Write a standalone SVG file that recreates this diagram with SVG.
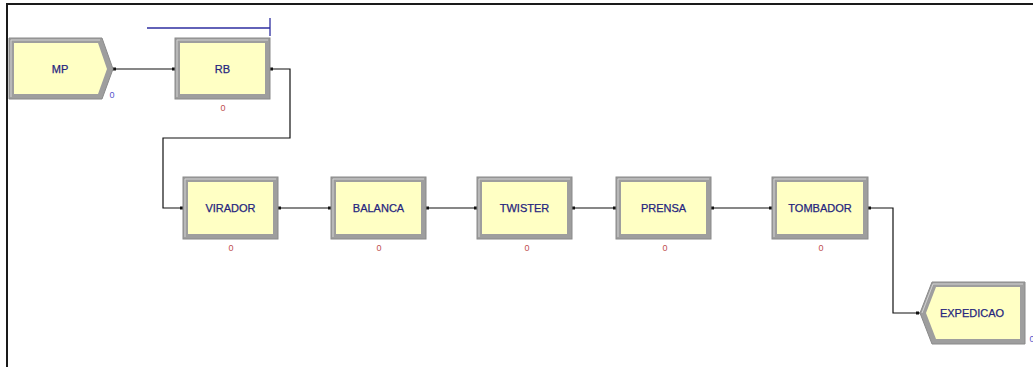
<svg xmlns="http://www.w3.org/2000/svg" width="1033" height="367" viewBox="0 0 1033 367">
  <defs>
    <style>
      .frame { fill: #9e9e9e; stroke: #8a8a8a; stroke-width: 1; }
      .hl { fill: none; stroke: #d2d2d2; stroke-width: 1; }
      .body { fill: #ffffc4; }
      .label { font-family: "Liberation Sans", Arial, sans-serif; font-size: 11px; fill: #25257e; stroke: #25257e; stroke-width: 0.25; text-anchor: middle; }
      .cnt { font-family: "Liberation Sans", Arial, sans-serif; font-size: 9px; text-anchor: middle; }
      .cnt-q { fill: #c05050; }
      .cnt-e { fill: #5555cc; }
      .conn { fill: none; stroke: #111; stroke-width: 1.2; }
      .pt { fill: #111; }
    </style>
  </defs>

  <rect x="0" y="0" width="1033" height="367" fill="#ffffff"/>
  <!-- window border -->
  <path d="M7 367 V4 H1033" fill="none" stroke="#1a1a1a" stroke-width="2"/>

  <!-- resource bar above RB -->
  <g id="rb-bar" stroke="#2e2ea0" stroke-width="1.3" fill="none">
    <path d="M147 28 H270"/>
    <path d="M270 18 V36"/>
  </g>

  <!-- connectors -->
  <g id="connectors">
    <path class="conn" d="M113 69 H175"/>
    <path class="conn" d="M270 69 H290 V138 H163 V208 H183"/>
    <path class="conn" d="M278 208 H331"/>
    <path class="conn" d="M426 208 H477"/>
    <path class="conn" d="M572 208 H616"/>
    <path class="conn" d="M711 208 H772"/>
    <path class="conn" d="M868 208 H893 V313 H920"/>
    <rect class="pt" x="113" y="67.5" width="3" height="3"/>
    <rect class="pt" x="172" y="67.5" width="3" height="3"/>
    <rect class="pt" x="270" y="67.5" width="3" height="3"/>
    <rect class="pt" x="180" y="206.5" width="3" height="3"/>
    <rect class="pt" x="278" y="206.5" width="3" height="3"/>
    <rect class="pt" x="328" y="206.5" width="3" height="3"/>
    <rect class="pt" x="426" y="206.5" width="3" height="3"/>
    <rect class="pt" x="474" y="206.5" width="3" height="3"/>
    <rect class="pt" x="572" y="206.5" width="3" height="3"/>
    <rect class="pt" x="613" y="206.5" width="3" height="3"/>
    <rect class="pt" x="711" y="206.5" width="3" height="3"/>
    <rect class="pt" x="769" y="206.5" width="3" height="3"/>
    <rect class="pt" x="868" y="206.5" width="3" height="3"/>
    <rect class="pt" x="916" y="311.5" width="3" height="3"/>
  </g>

  <!-- create module -->
  <g id="MP">
    <polygon class="frame" points="9,38 102,38 113,69 102,99 9,99"/>
    <polyline class="hl" points="11,97 11,40 100,40"/>
    <polygon class="body" points="14,43 98,43 107,69 98,94 14,94"/>
    <text class="label" x="60" y="73">MP</text>
    <text class="cnt cnt-e" x="112" y="98">0</text>
  </g>

  <!-- process modules -->
  <g id="RB">
    <rect class="frame" x="175" y="38" width="95" height="61"/>
    <polyline class="hl" points="177,97 177,40 268,40"/>
    <rect class="body" x="180" y="43" width="85" height="51"/>
    <text class="label" x="222.5" y="73">RB</text>
    <text class="cnt cnt-q" x="223" y="111">0</text>
  </g>

  <g id="VIRADOR">
    <rect class="frame" x="183" y="177" width="95" height="62"/>
    <polyline class="hl" points="185,237 185,179 276,179"/>
    <rect class="body" x="188" y="182" width="85" height="52"/>
    <text class="label" x="230.5" y="212">VIRADOR</text>
    <text class="cnt cnt-q" x="231" y="251">0</text>
  </g>

  <g id="BALANCA">
    <rect class="frame" x="331" y="177" width="95" height="62"/>
    <polyline class="hl" points="333,237 333,179 424,179"/>
    <rect class="body" x="336" y="182" width="85" height="52"/>
    <text class="label" x="378.5" y="212">BALANCA</text>
    <text class="cnt cnt-q" x="379" y="251">0</text>
  </g>

  <g id="TWISTER">
    <rect class="frame" x="477" y="177" width="95" height="62"/>
    <polyline class="hl" points="479,237 479,179 570,179"/>
    <rect class="body" x="482" y="182" width="85" height="52"/>
    <text class="label" x="524.5" y="212">TWISTER</text>
    <text class="cnt cnt-q" x="527" y="251">0</text>
  </g>

  <g id="PRENSA">
    <rect class="frame" x="616" y="177" width="95" height="62"/>
    <polyline class="hl" points="618,237 618,179 709,179"/>
    <rect class="body" x="621" y="182" width="85" height="52"/>
    <text class="label" x="663.5" y="212">PRENSA</text>
    <text class="cnt cnt-q" x="665" y="251">0</text>
  </g>

  <g id="TOMBADOR">
    <rect class="frame" x="772" y="177" width="96" height="62"/>
    <polyline class="hl" points="774,237 774,179 866,179"/>
    <rect class="body" x="777" y="182" width="86" height="52"/>
    <text class="label" x="820" y="212">TOMBADOR</text>
    <text class="cnt cnt-q" x="821" y="251">0</text>
  </g>

  <!-- dispose module -->
  <g id="EXPEDICAO">
    <polygon class="frame" points="932,282 1025,282 1025,344 932,344 920,313"/>
    <polyline class="hl" points="922,313 933,284 1023,284"/>
    <polygon class="body" points="936,287 1020,287 1020,339 936,339 926,313"/>
    <text class="label" x="972" y="317">EXPEDICAO</text>
    <text class="cnt cnt-e" x="1032" y="342">0</text>
  </g>
</svg>
